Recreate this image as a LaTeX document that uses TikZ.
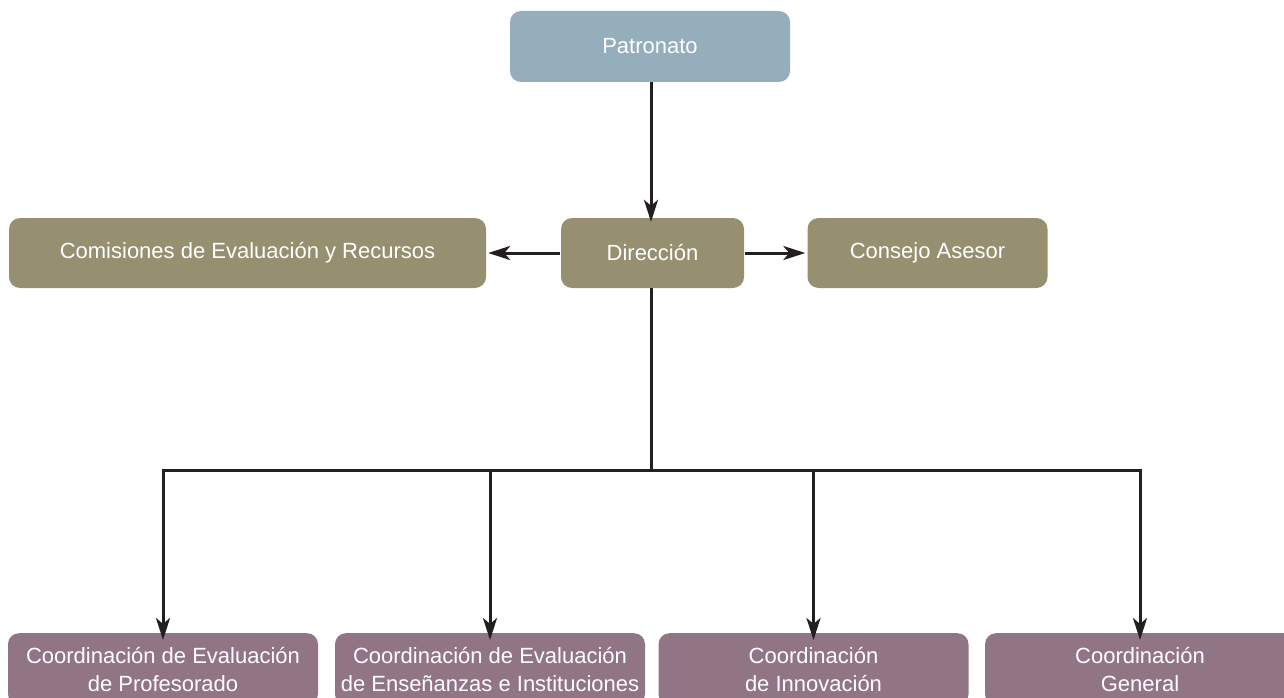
\documentclass[tikz,border=0pt]{standalone}
\usepackage{fontspec}
\setmainfont{Liberation Sans}
\usetikzlibrary{arrows.meta}
\definecolor{bluebox}{HTML}{94AEBC}
\definecolor{olivebox}{HTML}{968F70}
\definecolor{mauvebox}{HTML}{927584}
\definecolor{linec}{HTML}{231F20}
\tikzset{
  box/.style={rounded corners=11pt, text=white, inner sep=0pt, font=\fontsize{22}{28}\selectfont, align=center},
  topbox/.style={box, fill=bluebox, minimum width=280pt, minimum height=71pt},
  midbox/.style={box, fill=olivebox, minimum height=70pt},
  lowbox/.style={box, fill=mauvebox, minimum width=310pt, minimum height=72pt, anchor=north},
  conn/.style={draw=linec, line width=3pt},
  arr/.style={conn, -{Stealth[length=22pt, width=14pt, inset=6pt]}}
}
\begin{document}
\begin{tikzpicture}[x=1pt, y=-1pt]
\useasboundingbox (0,0) rectangle (1284,698);
\clip (0,0) rectangle (1284,698);
\node[topbox] (pat) at (650,46.5) {Patronato};
\node[midbox, minimum width=477pt] (com) at (247.5,253) {Comisiones de Evaluación y Recursos};
\node[midbox, minimum width=183pt] (dir) at (652.5,253) {Dirección};
\node[midbox, minimum width=240pt] (con) at (927.5,253) {Consejo Asesor};
\node[lowbox] (c1) at (163,633) {Coordinación de Evaluación\\de Profesorado};
\node[lowbox] (c2) at (490,633) {Coordinación de Evaluación\\de Enseñanzas e Instituciones};
\node[lowbox] (c3) at (813.5,633) {Coordinación\\de Innovación};
\node[lowbox] (c4) at (1140,633) {Coordinación\\General};
\coordinate (j) at (651,470);
\coordinate (jl) at (c1.north |- j);
\coordinate (jr) at (c4.north |- j);
\draw[arr] (pat.south -| j) -- ([yshift=-4pt]dir.north -| j);
\draw[arr] ([xshift=-1pt]dir.west) -- ([xshift=2pt]com.east);
\draw[arr] ([xshift=1pt]dir.east) -- ([xshift=-2pt]con.west);
\draw[conn] (dir.south -| j) -- (j);
\draw[conn, line cap=rect] (jl) -- (jr);
\foreach \c in {c1,c2,c3,c4}{
  \draw[arr] (\c.north |- j) -- ([yshift=-7pt]\c.north);
}
\end{tikzpicture}
\end{document}
